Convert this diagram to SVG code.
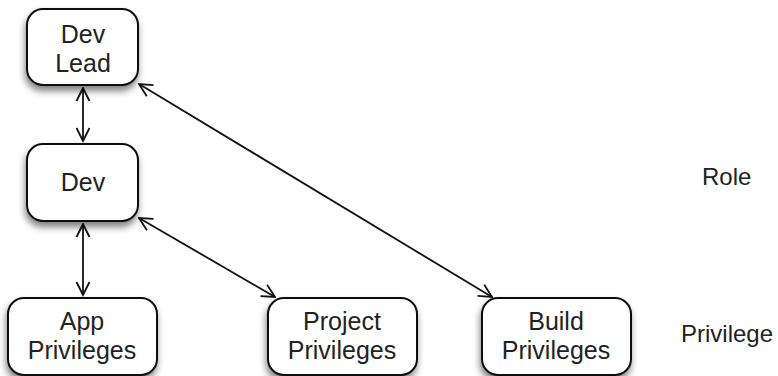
<svg xmlns="http://www.w3.org/2000/svg" width="778" height="376" viewBox="0 0 778 376">
<style>
.box{fill:#fff;stroke:#111;stroke-width:2;filter:url(#sh)}
.t{font-family:"Liberation Sans",Arial,sans-serif;font-size:25px;fill:#222;text-anchor:middle}
.lbl{font-family:"Liberation Sans",Arial,sans-serif;font-size:24px;fill:#222}
.c{fill:none;stroke:#111;stroke-width:1.8;marker-start:url(#ah);marker-end:url(#ah)}
</style>
<defs>
<filter id="sh" x="-20%" y="-20%" width="140%" height="150%">
<feDropShadow dx="-1" dy="5" stdDeviation="3.5" flood-color="#000" flood-opacity="0.5"/>
</filter>
<marker id="ah" viewBox="0 0 16 16" refX="14.5" refY="8" markerWidth="16" markerHeight="16" markerUnits="userSpaceOnUse" orient="auto-start-reverse">
<path d="M1.5,1.5 L14.5,8 L1.5,14.5" fill="none" stroke="#111" stroke-width="1.8"/>
</marker>
</defs>
<g id="connectors">
<line class="c" x1="83" y1="88" x2="83" y2="141"/>
<line class="c" x1="83" y1="224" x2="83" y2="295"/>
<line class="c" x1="139" y1="84" x2="492" y2="297"/>
<line class="c" x1="139" y1="218" x2="275" y2="297"/>
</g>
<g id="devlead"><rect class="box" x="27" y="9" width="111" height="76" rx="16"/><text class="t" x="83" y="43">Dev</text><text class="t" x="83" y="72">Lead</text></g>
<g id="dev"><rect class="box" x="27" y="144" width="111" height="77" rx="16"/><text class="t" x="83" y="191">Dev</text></g>
<g id="app"><rect class="box" x="8" y="298" width="149" height="77" rx="16"/><text class="t" x="82" y="330">App</text><text class="t" x="82" y="359">Privileges</text></g>
<g id="project"><rect class="box" x="268" y="298" width="149" height="77" rx="16"/><text class="t" x="342" y="330">Project</text><text class="t" x="342" y="359">Privileges</text></g>
<g id="build"><rect class="box" x="482" y="298" width="149" height="77" rx="16"/><text class="t" x="556" y="330">Build</text><text class="t" x="556" y="359">Privileges</text></g>
<text class="lbl" x="702" y="185">Role</text>
<text class="lbl" x="681" y="342">Privilege</text>
</svg>
